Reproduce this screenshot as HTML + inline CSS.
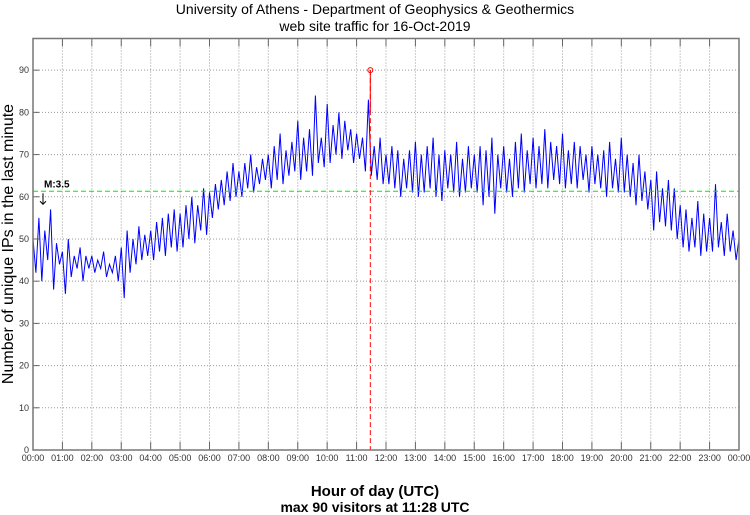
<!DOCTYPE html>
<html><head><meta charset="utf-8"><style>
body{margin:0;background:#fff;}
svg{display:block;font-family:"Liberation Sans",sans-serif;}
</style></head><body>
<svg id="chart" width="750" height="515">
<text x="375" y="14" text-anchor="middle" font-size="14">University of Athens - Department of Geophysics &amp; Geothermics</text>
<text x="375" y="31" text-anchor="middle" font-size="14">web site traffic for 16-Oct-2019</text>
<g id="grid"></g>
<g id="series"></g>
<g id="ticks"></g>
<rect x="33" y="38.5" width="706" height="411.5" fill="none" stroke="#777" stroke-width="1.5"/>
<text transform="translate(13,244) rotate(-90)" text-anchor="middle" font-size="16">Number of unique IPs in the last minute</text>
<text x="375" y="496" text-anchor="middle" font-size="15" font-weight="bold">Hour of day (UTC)</text>
<text x="375" y="512" text-anchor="middle" font-size="14" font-weight="bold">max 90 visitors at 11:28 UTC</text>
</svg>
<script>
const values=[
50,42,55,40,52,45,57,38,49,44,
47,37,50,41,46,43,48,40,46,43,
46,42,45,43,47,41,44,42,46,40,
48,36,52,42,50,44,53,45,51,46,
52,45,54,47,55,46,56,48,57,47,
56,48,58,50,60,49,58,52,62,51,
61,55,63,57,64,58,66,59,68,60,
66,60,68,62,70,61,67,63,69,64,
70,62,72,64,75,63,71,65,73,66,
78,64,74,66,76,65,84,68,74,67,
82,68,77,70,80,69,78,71,76,68,
75,69,74,66,83,65,72,64,74,63,
70,63,72,62,71,60,69,62,71,61,
73,60,70,61,72,62,74,60,70,59,
71,62,70,61,73,60,69,61,72,62,
70,61,72,58,71,60,74,56,70,62,
72,61,69,60,73,62,75,61,71,63,
74,62,72,63,76,62,73,64,72,63,
75,62,71,63,73,62,72,64,70,61,
72,63,70,62,71,60,73,62,69,61,
74,61,70,60,68,58,70,59,66,57,
64,52,66,54,62,53,64,52,62,50,
58,48,57,47,55,48,59,46,56,47,
55,47,63,48,54,46,56,47,52,45,50];
const yTicks=[0,10,20,30,40,50,60,70,80,90];
const xTickLabels=["00:00","01:00","02:00","03:00","04:00","05:00","06:00","07:00","08:00","09:00","10:00","11:00","12:00","13:00","14:00","15:00","16:00","17:00","18:00","19:00","20:00","21:00","22:00","23:00","00:00"];
const meanLevel=61.3;
const meanLabel="M:3.5";
const maxValue=90;
const maxHour=11+28/60;
const NS="http://www.w3.org/2000/svg";
const L=33,R=739,T=38.5,B=450,YMAX=97.5;
const xs=h=>L+(R-L)*h/24;
const ys=v=>B-(B-T)*v/YMAX;
const grid=document.getElementById('grid'),ticks=document.getElementById('ticks'),series=document.getElementById('series');
function mk(tag,attrs,parent){const e=document.createElementNS(NS,tag);for(const k in attrs)e.setAttribute(k,attrs[k]);parent.appendChild(e);return e;}
yTicks.forEach(v=>{
  const y=ys(v);
  if(v>0){const g=mk('line',{x1:L,x2:R,y1:y,y2:y,stroke:'#999','stroke-dasharray':'1,2'},grid);
  
  }
  const tk=mk('line',{x1:L,x2:L+6,y1:y,y2:y,stroke:'#666'},ticks);
  
  
  const t=mk('text',{x:L-4,y:y+3,'text-anchor':'end','font-size':'9',fill:'#333'},ticks);
  t.textContent=v;
  
  
});
xTickLabels.forEach((lab,i)=>{
  const x=xs(i);
  if(i>0&&i<24){const g=mk('line',{x1:x,x2:x,y1:T,y2:B,stroke:'#999','stroke-dasharray':'1,2'},grid);
  
  
  const tk=mk('line',{x1:x,x2:x,y1:B,y2:B-8,stroke:'#666'},ticks);
  
  
  const tk2=mk('line',{x1:x,x2:x,y1:T,y2:T+8,stroke:'#666'},ticks);
  
  }
  const t=mk('text',{x:x,y:B+11,'text-anchor':'middle','font-size':'9',fill:'#333'},ticks);
  t.textContent=lab;
  
  
});
const n=values.length-1;
const pts=values.map((v,i)=>xs(24*i/n).toFixed(1)+','+ys(v).toFixed(1)).join(' ');
const pl=mk('polyline',{points:pts,fill:'none',stroke:'#0000ff','stroke-width':'1'},series);


const ml=mk('line',{x1:L,x2:R,y1:ys(meanLevel),y2:ys(meanLevel),stroke:'#00ee00','stroke-dasharray':'5,3'},series);


const mt=mk('text',{x:44,y:ys(meanLevel)-4,'font-size':'10','font-weight':'bold'},series);
mt.textContent=meanLabel;


const ma=mk('path',{d:`M43,${ys(meanLevel)+2} V${ys(meanLevel)+13} M40,${ys(meanLevel)+10} L43,${ys(meanLevel)+13} L46,${ys(meanLevel)+10}`,stroke:'#000',fill:'none'},series);


const mx=xs(maxHour);
const rs=mk('line',{x1:mx,x2:mx,y1:ys(maxValue),y2:ys(maxValue-10),stroke:'#ff0000'},series);


const rl=mk('line',{x1:mx,x2:mx,y1:ys(maxValue),y2:B,stroke:'#ff0000','stroke-dasharray':'5,3'},series);


const rc=mk('circle',{cx:mx,cy:ys(maxValue),r:2.5,fill:'none',stroke:'#ff0000'},series);


</script>
</body></html>
